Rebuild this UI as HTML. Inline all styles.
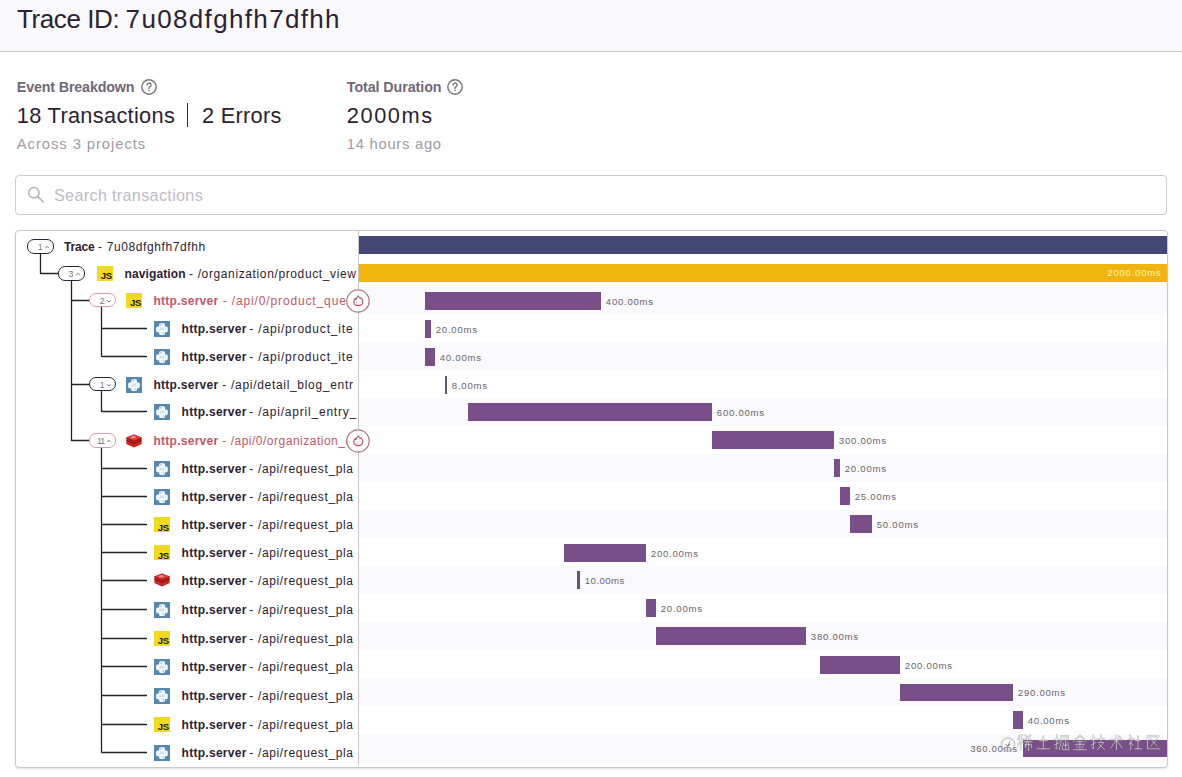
<!DOCTYPE html>
<html><head><meta charset="utf-8"><style>
html,body{margin:0;padding:0;background:#fff;}
body{width:1182px;height:777px;overflow:hidden;position:relative;font-family:"Liberation Sans", sans-serif;}
#clip{position:absolute;left:16px;top:231px;width:340px;height:535px;overflow:hidden;}
</style></head><body>
<div style="position:absolute;left:0px;top:0px;width:1182px;height:51px;background:#f9f9fb;"></div>
<div style="position:absolute;left:0px;top:51px;width:1182px;height:1px;background:#c9c8cc;"></div>
<div id="title1" style="position:absolute;left:17px;top:5.79px;font-size:26px;line-height:26px;font-weight:400;color:#2b2233;white-space:pre;letter-spacing:-0.409px;">Trace ID:</div>
<div id="title2" style="position:absolute;left:125.6px;top:5.79px;font-size:26px;line-height:26px;font-weight:400;color:#2b2233;white-space:pre;letter-spacing:1.341px;">7u08dfghfh7dfhh</div>
<div id="t2" style="position:absolute;left:16.8px;top:79.90px;font-size:14.3px;line-height:14.3px;font-weight:700;color:#6f6878;white-space:pre;letter-spacing:-0.159px;">Event Breakdown</div>
<svg style="position:absolute;left:139.7px;top:77.9px" width="18" height="18" viewBox="0 0 18 18"><circle cx="9" cy="9" r="7.2" fill="none" stroke="#77727c" stroke-width="1.4"/><path d="M7 7.1a2.05 2.05 0 1 1 2.85 1.85c-.5.25-.85.6-.85 1.15v.55" fill="none" stroke="#77727c" stroke-width="1.3" stroke-linecap="round"/><circle cx="9" cy="12.5" r=".8" fill="#77727c"/></svg>
<div id="t3" style="position:absolute;left:16.8px;top:105.05px;font-size:21.8px;line-height:21.8px;font-weight:400;color:#2b2233;white-space:pre;letter-spacing:0.297px;">18 Transactions</div>
<div style="position:absolute;left:187.1px;top:103.3px;width:1.3px;height:23.7px;background:#2b2233;"></div>
<div id="t4" style="position:absolute;left:202px;top:105.05px;font-size:21.8px;line-height:21.8px;font-weight:400;color:#2b2233;white-space:pre;letter-spacing:0.275px;">2 Errors</div>
<div id="t5" style="position:absolute;left:16.8px;top:136.67px;font-size:14.8px;line-height:14.8px;font-weight:400;color:#a09ba6;white-space:pre;letter-spacing:0.931px;">Across 3 projects</div>
<div id="t6" style="position:absolute;left:346.8px;top:79.90px;font-size:14.3px;line-height:14.3px;font-weight:700;color:#6f6878;white-space:pre;letter-spacing:-0.085px;">Total Duration</div>
<svg style="position:absolute;left:446.1px;top:77.9px" width="18" height="18" viewBox="0 0 18 18"><circle cx="9" cy="9" r="7.2" fill="none" stroke="#77727c" stroke-width="1.4"/><path d="M7 7.1a2.05 2.05 0 1 1 2.85 1.85c-.5.25-.85.6-.85 1.15v.55" fill="none" stroke="#77727c" stroke-width="1.3" stroke-linecap="round"/><circle cx="9" cy="12.5" r=".8" fill="#77727c"/></svg>
<div id="t7" style="position:absolute;left:346.8px;top:105.05px;font-size:21.8px;line-height:21.8px;font-weight:400;color:#2b2233;white-space:pre;letter-spacing:1.558px;">2000ms</div>
<div id="t8" style="position:absolute;left:346.8px;top:136.67px;font-size:14.8px;line-height:14.8px;font-weight:400;color:#a09ba6;white-space:pre;letter-spacing:0.718px;">14 hours ago</div>
<div style="position:absolute;left:15px;top:175px;width:1150px;height:38px;border:1px solid #cdcad0;border-radius:4px;background:#fff"></div>
<svg style="position:absolute;left:26px;top:185px" width="20" height="20" viewBox="0 0 20 20"><circle cx="7.9" cy="7.7" r="5.2" fill="none" stroke="#b6b3ba" stroke-width="1.5"/><path d="M11.6 11.4l5.6 5.5" stroke="#b6b3ba" stroke-width="1.5" stroke-linecap="round"/></svg>
<div id="t9" style="position:absolute;left:54.0px;top:186.79px;font-size:16.2px;line-height:16.2px;font-weight:400;color:#c0bbc6;white-space:pre;letter-spacing:0.318px;">Search transactions</div>
<div style="position:absolute;left:15px;top:230px;width:1151px;height:536px;border:1px solid #c9c7cc;border-radius:4px;background:#fff;box-shadow:0 1px 2px rgba(0,0,0,0.12)"></div>
<div style="position:absolute;left:359px;top:287px;width:808px;height:28px;background:#fafafc;"></div>
<div style="position:absolute;left:359px;top:343px;width:808px;height:28px;background:#fafafc;"></div>
<div style="position:absolute;left:359px;top:398px;width:808px;height:28px;background:#fafafc;"></div>
<div style="position:absolute;left:359px;top:454px;width:808px;height:28px;background:#fafafc;"></div>
<div style="position:absolute;left:359px;top:510px;width:808px;height:28px;background:#fafafc;"></div>
<div style="position:absolute;left:359px;top:566px;width:808px;height:28px;background:#fafafc;"></div>
<div style="position:absolute;left:359px;top:622px;width:808px;height:28px;background:#fafafc;"></div>
<div style="position:absolute;left:359px;top:678px;width:808px;height:28px;background:#fafafc;"></div>
<div style="position:absolute;left:359px;top:735px;width:808px;height:28px;background:#fafafc;"></div>
<div style="position:absolute;left:359px;top:236.0px;width:808px;height:17.5px;background:#444674;"></div>
<div style="position:absolute;left:359px;top:264.1px;width:808px;height:17.5px;background:#f2b50f;"></div>
<div id="t10" style="position:absolute;left:1107.3px;top:267.62px;font-size:9.6px;line-height:9.6px;font-weight:400;color:#fff3c4;white-space:pre;letter-spacing:0.750px;">2000.00ms</div>
<div style="position:absolute;left:425px;top:292.25px;width:176px;height:17.5px;background:#7a4f89;"></div>
<div id="t11" style="position:absolute;left:605.8px;top:296.97px;font-size:9.6px;line-height:9.6px;font-weight:400;color:#6a6370;white-space:pre;letter-spacing:0.746px;">400.00ms</div>
<div style="position:absolute;left:425px;top:320.25px;width:6px;height:17.5px;background:#7a4f89;"></div>
<div id="t12" style="position:absolute;left:435.8px;top:324.97px;font-size:9.6px;line-height:9.6px;font-weight:400;color:#6a6370;white-space:pre;letter-spacing:0.727px;">20.00ms</div>
<div style="position:absolute;left:425px;top:348.0px;width:10px;height:17.5px;background:#7a4f89;"></div>
<div id="t13" style="position:absolute;left:439.8px;top:352.72px;font-size:9.6px;line-height:9.6px;font-weight:400;color:#6a6370;white-space:pre;letter-spacing:0.729px;">40.00ms</div>
<div style="position:absolute;left:445px;top:376.05px;width:2px;height:17.5px;background:#65546f;"></div>
<div id="t14" style="position:absolute;left:451.8px;top:380.77px;font-size:9.6px;line-height:9.6px;font-weight:400;color:#6a6370;white-space:pre;letter-spacing:0.782px;">8.00ms</div>
<div style="position:absolute;left:468px;top:403.05px;width:244px;height:17.5px;background:#7a4f89;"></div>
<div id="t15" style="position:absolute;left:716.8px;top:407.77px;font-size:9.6px;line-height:9.6px;font-weight:400;color:#6a6370;white-space:pre;letter-spacing:0.747px;">600.00ms</div>
<div style="position:absolute;left:712px;top:431.0px;width:122px;height:17.5px;background:#7a4f89;"></div>
<div id="t16" style="position:absolute;left:838.8px;top:435.72px;font-size:9.6px;line-height:9.6px;font-weight:400;color:#6a6370;white-space:pre;letter-spacing:0.746px;">300.00ms</div>
<div style="position:absolute;left:834px;top:459.25px;width:6px;height:17.5px;background:#7a4f89;"></div>
<div id="t17" style="position:absolute;left:844.8px;top:463.97px;font-size:9.6px;line-height:9.6px;font-weight:400;color:#6a6370;white-space:pre;letter-spacing:0.727px;">20.00ms</div>
<div style="position:absolute;left:840px;top:487.15px;width:10px;height:17.5px;background:#7a4f89;"></div>
<div id="t18" style="position:absolute;left:854.8px;top:491.87px;font-size:9.6px;line-height:9.6px;font-weight:400;color:#6a6370;white-space:pre;letter-spacing:0.727px;">25.00ms</div>
<div style="position:absolute;left:850px;top:515.25px;width:22px;height:17.5px;background:#7a4f89;"></div>
<div id="t19" style="position:absolute;left:876.8px;top:519.97px;font-size:9.6px;line-height:9.6px;font-weight:400;color:#6a6370;white-space:pre;letter-spacing:0.727px;">50.00ms</div>
<div style="position:absolute;left:564px;top:544.15px;width:82px;height:17.5px;background:#7a4f89;"></div>
<div id="t20" style="position:absolute;left:650.8px;top:548.87px;font-size:9.6px;line-height:9.6px;font-weight:400;color:#6a6370;white-space:pre;letter-spacing:0.747px;">200.00ms</div>
<div style="position:absolute;left:577px;top:571.25px;width:3px;height:17.5px;background:#65546f;"></div>
<div id="t21" style="position:absolute;left:584.8px;top:575.97px;font-size:9.6px;line-height:9.6px;font-weight:400;color:#6a6370;white-space:pre;letter-spacing:0.460px;">10.00ms</div>
<div style="position:absolute;left:646px;top:599.25px;width:10px;height:17.5px;background:#7a4f89;"></div>
<div id="t22" style="position:absolute;left:660.8px;top:603.97px;font-size:9.6px;line-height:9.6px;font-weight:400;color:#6a6370;white-space:pre;letter-spacing:0.727px;">20.00ms</div>
<div style="position:absolute;left:656px;top:627.0px;width:150px;height:17.5px;background:#7a4f89;"></div>
<div id="t23" style="position:absolute;left:810.8px;top:631.72px;font-size:9.6px;line-height:9.6px;font-weight:400;color:#6a6370;white-space:pre;letter-spacing:0.747px;">380.00ms</div>
<div style="position:absolute;left:820px;top:656.15px;width:80px;height:17.5px;background:#7a4f89;"></div>
<div id="t24" style="position:absolute;left:904.8px;top:660.87px;font-size:9.6px;line-height:9.6px;font-weight:400;color:#6a6370;white-space:pre;letter-spacing:0.747px;">200.00ms</div>
<div style="position:absolute;left:900px;top:683.75px;width:113px;height:17.5px;background:#7a4f89;"></div>
<div id="t25" style="position:absolute;left:1017.8px;top:688.47px;font-size:9.6px;line-height:9.6px;font-weight:400;color:#6a6370;white-space:pre;letter-spacing:0.746px;">290.00ms</div>
<div style="position:absolute;left:1013px;top:711.25px;width:10px;height:17.5px;background:#7a4f89;"></div>
<div id="t26" style="position:absolute;left:1027.8px;top:715.97px;font-size:9.6px;line-height:9.6px;font-weight:400;color:#6a6370;white-space:pre;letter-spacing:0.726px;">40.00ms</div>
<div style="position:absolute;left:1023px;top:739.85px;width:144px;height:17.5px;background:#7a4f89;"></div>
<div id="t27" style="position:absolute;left:970.2px;top:744.27px;font-size:9.6px;line-height:9.6px;font-weight:400;color:#6a6370;white-space:pre;letter-spacing:0.661px;">360.00ms</div>
<div style="position:absolute;left:358px;top:231px;width:1px;height:535px;background:#c9c7cc;"></div>
<svg style="position:absolute;left:0;top:0" width="400" height="777"><path d="M40.5 253V273.9 M40.3 273.5H59 M71.5 280V441.1 M71.5 300.5H90 M71.5 384.5H90 M71.5 440.5H90 M101.5 307V356.8 M101.6 328.5H147 M101.6 356.5H147 M101.5 391V412.0 M101.6 411.5H147 M101.5 447V752.7 M101.6 468.5H147 M101.6 496.5H147 M101.6 524.5H147 M101.6 552.5H147 M101.6 580.5H147 M101.6 609.5H147 M101.6 638.5H147 M101.6 666.5H147 M101.6 695.5H147 M101.6 724.5H147 M101.6 752.5H147" stroke="#242226" stroke-width="1.3" fill="none"/></svg>
<div style="position:absolute;left:27.1px;top:239.15px;width:25px;height:12.5px;border:1px solid #2b2233;border-radius:7px;background:#fff"></div>
<div id="t28" style="position:absolute;left:37.7px;top:243.15px;font-size:8.8px;line-height:8.8px;font-weight:400;color:#79717f;white-space:pre;letter-spacing:0.000px;">1</div>
<svg style="position:absolute;left:45.3px;top:245.80px;overflow:visible" width="4" height="3"><path d="M0.2 2.1L2 0.3L3.8 2.1" fill="none" stroke="#79717f" stroke-width="1"/></svg>
<div style="position:absolute;left:58px;top:266.05px;width:25px;height:12.5px;border:1px solid #2b2233;border-radius:7px;background:#fff"></div>
<div id="t31" style="position:absolute;left:68.6px;top:270.05px;font-size:8.8px;line-height:8.8px;font-weight:400;color:#79717f;white-space:pre;letter-spacing:0.000px;">3</div>
<svg style="position:absolute;left:76.2px;top:272.70px;overflow:visible" width="4" height="3"><path d="M0.2 2.1L2 0.3L3.8 2.1" fill="none" stroke="#79717f" stroke-width="1"/></svg>
<div style="position:absolute;left:97px;top:265.70px;width:15.6px;height:15.6px;background:#f0d91e;overflow:hidden"><div style="position:absolute;right:0.9px;bottom:0.3px;font-size:9.6px;line-height:9.6px;font-weight:700;color:#1a1810;letter-spacing:-0.4px;font-family:"Liberation Sans", sans-serif">JS</div></div>
<div style="position:absolute;left:89.2px;top:292.95px;width:25px;height:12.5px;border:1px solid #d99aa6;border-radius:7px;background:#fff"></div>
<div id="t34" style="position:absolute;left:99.8px;top:296.95px;font-size:8.8px;line-height:8.8px;font-weight:400;color:#79717f;white-space:pre;letter-spacing:0.000px;">2</div>
<svg style="position:absolute;left:107.4px;top:299.60px;overflow:visible" width="4" height="3"><path d="M0.2 0.3L2 2.1L3.8 0.3" fill="none" stroke="#79717f" stroke-width="1"/></svg>
<div style="position:absolute;left:126.2px;top:292.60px;width:15.6px;height:15.6px;background:#f0d91e;overflow:hidden"><div style="position:absolute;right:0.9px;bottom:0.3px;font-size:9.6px;line-height:9.6px;font-weight:700;color:#1a1810;letter-spacing:-0.4px;font-family:"Liberation Sans", sans-serif">JS</div></div>
<svg style="position:absolute;left:154px;top:321.00px" width="16" height="16" viewBox="0 0 16 16"><rect width="16" height="16" fill="#5689b0"/><path d="M6.6 2.3h2.9c.9 0 1.5.6 1.5 1.5v1.6h1.3c.9 0 1.5.6 1.5 1.5v2.8c0 .9-.6 1.5-1.5 1.5H11v1.2c0 .9-.6 1.5-1.5 1.5H6.6c-.9 0-1.5-.6-1.5-1.5v-1.2H3.6c-.9 0-1.5-.6-1.5-1.5V6.9c0-.9.6-1.5 1.5-1.5h1.5V3.8c0-.9.6-1.5 1.5-1.5z" fill="#f2f7fb"/><path d="M5.2 8.6h4.6M6.2 7.2h4.6" stroke="#b9cfe0" stroke-width=".7"/><circle cx="6.9" cy="3.9" r=".55" fill="#5689b0"/><circle cx="9.2" cy="12.1" r=".55" fill="#5689b0"/></svg>
<svg style="position:absolute;left:154px;top:349.00px" width="16" height="16" viewBox="0 0 16 16"><rect width="16" height="16" fill="#5689b0"/><path d="M6.6 2.3h2.9c.9 0 1.5.6 1.5 1.5v1.6h1.3c.9 0 1.5.6 1.5 1.5v2.8c0 .9-.6 1.5-1.5 1.5H11v1.2c0 .9-.6 1.5-1.5 1.5H6.6c-.9 0-1.5-.6-1.5-1.5v-1.2H3.6c-.9 0-1.5-.6-1.5-1.5V6.9c0-.9.6-1.5 1.5-1.5h1.5V3.8c0-.9.6-1.5 1.5-1.5z" fill="#f2f7fb"/><path d="M5.2 8.6h4.6M6.2 7.2h4.6" stroke="#b9cfe0" stroke-width=".7"/><circle cx="6.9" cy="3.9" r=".55" fill="#5689b0"/><circle cx="9.2" cy="12.1" r=".55" fill="#5689b0"/></svg>
<div style="position:absolute;left:89.2px;top:376.95px;width:25px;height:12.5px;border:1px solid #2b2233;border-radius:7px;background:#fff"></div>
<div id="t41" style="position:absolute;left:99.8px;top:380.95px;font-size:8.8px;line-height:8.8px;font-weight:400;color:#79717f;white-space:pre;letter-spacing:0.000px;">1</div>
<svg style="position:absolute;left:107.4px;top:383.60px;overflow:visible" width="4" height="3"><path d="M0.2 0.3L2 2.1L3.8 0.3" fill="none" stroke="#79717f" stroke-width="1"/></svg>
<svg style="position:absolute;left:126px;top:377.00px" width="16" height="16" viewBox="0 0 16 16"><rect width="16" height="16" fill="#5689b0"/><path d="M6.6 2.3h2.9c.9 0 1.5.6 1.5 1.5v1.6h1.3c.9 0 1.5.6 1.5 1.5v2.8c0 .9-.6 1.5-1.5 1.5H11v1.2c0 .9-.6 1.5-1.5 1.5H6.6c-.9 0-1.5-.6-1.5-1.5v-1.2H3.6c-.9 0-1.5-.6-1.5-1.5V6.9c0-.9.6-1.5 1.5-1.5h1.5V3.8c0-.9.6-1.5 1.5-1.5z" fill="#f2f7fb"/><path d="M5.2 8.6h4.6M6.2 7.2h4.6" stroke="#b9cfe0" stroke-width=".7"/><circle cx="6.9" cy="3.9" r=".55" fill="#5689b0"/><circle cx="9.2" cy="12.1" r=".55" fill="#5689b0"/></svg>
<svg style="position:absolute;left:154px;top:404.20px" width="16" height="16" viewBox="0 0 16 16"><rect width="16" height="16" fill="#5689b0"/><path d="M6.6 2.3h2.9c.9 0 1.5.6 1.5 1.5v1.6h1.3c.9 0 1.5.6 1.5 1.5v2.8c0 .9-.6 1.5-1.5 1.5H11v1.2c0 .9-.6 1.5-1.5 1.5H6.6c-.9 0-1.5-.6-1.5-1.5v-1.2H3.6c-.9 0-1.5-.6-1.5-1.5V6.9c0-.9.6-1.5 1.5-1.5h1.5V3.8c0-.9.6-1.5 1.5-1.5z" fill="#f2f7fb"/><path d="M5.2 8.6h4.6M6.2 7.2h4.6" stroke="#b9cfe0" stroke-width=".7"/><circle cx="6.9" cy="3.9" r=".55" fill="#5689b0"/><circle cx="9.2" cy="12.1" r=".55" fill="#5689b0"/></svg>
<div style="position:absolute;left:89.2px;top:433.25px;width:25px;height:12.5px;border:1px solid #d99aa6;border-radius:7px;background:#fff"></div>
<div id="t46" style="position:absolute;left:97.10000000000001px;top:437.25px;font-size:8.8px;line-height:8.8px;font-weight:400;color:#79717f;white-space:pre;letter-spacing:0.000px;letter-spacing:-1.2px">11</div>
<svg style="position:absolute;left:107.4px;top:439.90px;overflow:visible" width="4" height="3"><path d="M0.2 2.1L2 0.3L3.8 2.1" fill="none" stroke="#79717f" stroke-width="1"/></svg>
<svg style="position:absolute;left:126px;top:433.50px" width="16" height="14" viewBox="0 0 16 14"><path d="M8 0.6L15.6 3.6V10L8 13.4L0.4 10V3.6Z" fill="#b91c17"/><path d="M1 7.2L8 10.2L15 7.2V9.6L8 12.7L1 9.6Z" fill="#d22b24"/><path d="M0.4 6.4L8 9.6L15.6 6.4" fill="none" stroke="#7e110d" stroke-width=".8"/><path d="M0.4 3.6L8 6.8L15.6 3.6" fill="none" stroke="#7e110d" stroke-width=".8"/><path d="M8 0.6L15.6 3.6L8 6.8L0.4 3.6Z" fill="#dc3a32"/><path d="M4.2 3.2L7.6 1.9L10.6 3.3L7 4.6Z" fill="#f2a39c"/></svg>
<svg style="position:absolute;left:154px;top:461.30px" width="16" height="16" viewBox="0 0 16 16"><rect width="16" height="16" fill="#5689b0"/><path d="M6.6 2.3h2.9c.9 0 1.5.6 1.5 1.5v1.6h1.3c.9 0 1.5.6 1.5 1.5v2.8c0 .9-.6 1.5-1.5 1.5H11v1.2c0 .9-.6 1.5-1.5 1.5H6.6c-.9 0-1.5-.6-1.5-1.5v-1.2H3.6c-.9 0-1.5-.6-1.5-1.5V6.9c0-.9.6-1.5 1.5-1.5h1.5V3.8c0-.9.6-1.5 1.5-1.5z" fill="#f2f7fb"/><path d="M5.2 8.6h4.6M6.2 7.2h4.6" stroke="#b9cfe0" stroke-width=".7"/><circle cx="6.9" cy="3.9" r=".55" fill="#5689b0"/><circle cx="9.2" cy="12.1" r=".55" fill="#5689b0"/></svg>
<svg style="position:absolute;left:154px;top:489.20px" width="16" height="16" viewBox="0 0 16 16"><rect width="16" height="16" fill="#5689b0"/><path d="M6.6 2.3h2.9c.9 0 1.5.6 1.5 1.5v1.6h1.3c.9 0 1.5.6 1.5 1.5v2.8c0 .9-.6 1.5-1.5 1.5H11v1.2c0 .9-.6 1.5-1.5 1.5H6.6c-.9 0-1.5-.6-1.5-1.5v-1.2H3.6c-.9 0-1.5-.6-1.5-1.5V6.9c0-.9.6-1.5 1.5-1.5h1.5V3.8c0-.9.6-1.5 1.5-1.5z" fill="#f2f7fb"/><path d="M5.2 8.6h4.6M6.2 7.2h4.6" stroke="#b9cfe0" stroke-width=".7"/><circle cx="6.9" cy="3.9" r=".55" fill="#5689b0"/><circle cx="9.2" cy="12.1" r=".55" fill="#5689b0"/></svg>
<div style="position:absolute;left:154px;top:516.80px;width:15.6px;height:15.6px;background:#f0d91e;overflow:hidden"><div style="position:absolute;right:0.9px;bottom:0.3px;font-size:9.6px;line-height:9.6px;font-weight:700;color:#1a1810;letter-spacing:-0.4px;font-family:"Liberation Sans", sans-serif">JS</div></div>
<div style="position:absolute;left:154px;top:544.80px;width:15.6px;height:15.6px;background:#f0d91e;overflow:hidden"><div style="position:absolute;right:0.9px;bottom:0.3px;font-size:9.6px;line-height:9.6px;font-weight:700;color:#1a1810;letter-spacing:-0.4px;font-family:"Liberation Sans", sans-serif">JS</div></div>
<svg style="position:absolute;left:154px;top:573.40px" width="16" height="14" viewBox="0 0 16 14"><path d="M8 0.6L15.6 3.6V10L8 13.4L0.4 10V3.6Z" fill="#b91c17"/><path d="M1 7.2L8 10.2L15 7.2V9.6L8 12.7L1 9.6Z" fill="#d22b24"/><path d="M0.4 6.4L8 9.6L15.6 6.4" fill="none" stroke="#7e110d" stroke-width=".8"/><path d="M0.4 3.6L8 6.8L15.6 3.6" fill="none" stroke="#7e110d" stroke-width=".8"/><path d="M8 0.6L15.6 3.6L8 6.8L0.4 3.6Z" fill="#dc3a32"/><path d="M4.2 3.2L7.6 1.9L10.6 3.3L7 4.6Z" fill="#f2a39c"/></svg>
<svg style="position:absolute;left:154px;top:602.10px" width="16" height="16" viewBox="0 0 16 16"><rect width="16" height="16" fill="#5689b0"/><path d="M6.6 2.3h2.9c.9 0 1.5.6 1.5 1.5v1.6h1.3c.9 0 1.5.6 1.5 1.5v2.8c0 .9-.6 1.5-1.5 1.5H11v1.2c0 .9-.6 1.5-1.5 1.5H6.6c-.9 0-1.5-.6-1.5-1.5v-1.2H3.6c-.9 0-1.5-.6-1.5-1.5V6.9c0-.9.6-1.5 1.5-1.5h1.5V3.8c0-.9.6-1.5 1.5-1.5z" fill="#f2f7fb"/><path d="M5.2 8.6h4.6M6.2 7.2h4.6" stroke="#b9cfe0" stroke-width=".7"/><circle cx="6.9" cy="3.9" r=".55" fill="#5689b0"/><circle cx="9.2" cy="12.1" r=".55" fill="#5689b0"/></svg>
<div style="position:absolute;left:154px;top:630.70px;width:15.6px;height:15.6px;background:#f0d91e;overflow:hidden"><div style="position:absolute;right:0.9px;bottom:0.3px;font-size:9.6px;line-height:9.6px;font-weight:700;color:#1a1810;letter-spacing:-0.4px;font-family:"Liberation Sans", sans-serif">JS</div></div>
<svg style="position:absolute;left:154px;top:658.90px" width="16" height="16" viewBox="0 0 16 16"><rect width="16" height="16" fill="#5689b0"/><path d="M6.6 2.3h2.9c.9 0 1.5.6 1.5 1.5v1.6h1.3c.9 0 1.5.6 1.5 1.5v2.8c0 .9-.6 1.5-1.5 1.5H11v1.2c0 .9-.6 1.5-1.5 1.5H6.6c-.9 0-1.5-.6-1.5-1.5v-1.2H3.6c-.9 0-1.5-.6-1.5-1.5V6.9c0-.9.6-1.5 1.5-1.5h1.5V3.8c0-.9.6-1.5 1.5-1.5z" fill="#f2f7fb"/><path d="M5.2 8.6h4.6M6.2 7.2h4.6" stroke="#b9cfe0" stroke-width=".7"/><circle cx="6.9" cy="3.9" r=".55" fill="#5689b0"/><circle cx="9.2" cy="12.1" r=".55" fill="#5689b0"/></svg>
<svg style="position:absolute;left:154px;top:688.00px" width="16" height="16" viewBox="0 0 16 16"><rect width="16" height="16" fill="#5689b0"/><path d="M6.6 2.3h2.9c.9 0 1.5.6 1.5 1.5v1.6h1.3c.9 0 1.5.6 1.5 1.5v2.8c0 .9-.6 1.5-1.5 1.5H11v1.2c0 .9-.6 1.5-1.5 1.5H6.6c-.9 0-1.5-.6-1.5-1.5v-1.2H3.6c-.9 0-1.5-.6-1.5-1.5V6.9c0-.9.6-1.5 1.5-1.5h1.5V3.8c0-.9.6-1.5 1.5-1.5z" fill="#f2f7fb"/><path d="M5.2 8.6h4.6M6.2 7.2h4.6" stroke="#b9cfe0" stroke-width=".7"/><circle cx="6.9" cy="3.9" r=".55" fill="#5689b0"/><circle cx="9.2" cy="12.1" r=".55" fill="#5689b0"/></svg>
<div style="position:absolute;left:154px;top:716.70px;width:15.6px;height:15.6px;background:#f0d91e;overflow:hidden"><div style="position:absolute;right:0.9px;bottom:0.3px;font-size:9.6px;line-height:9.6px;font-weight:700;color:#1a1810;letter-spacing:-0.4px;font-family:"Liberation Sans", sans-serif">JS</div></div>
<svg style="position:absolute;left:154px;top:744.90px" width="16" height="16" viewBox="0 0 16 16"><rect width="16" height="16" fill="#5689b0"/><path d="M6.6 2.3h2.9c.9 0 1.5.6 1.5 1.5v1.6h1.3c.9 0 1.5.6 1.5 1.5v2.8c0 .9-.6 1.5-1.5 1.5H11v1.2c0 .9-.6 1.5-1.5 1.5H6.6c-.9 0-1.5-.6-1.5-1.5v-1.2H3.6c-.9 0-1.5-.6-1.5-1.5V6.9c0-.9.6-1.5 1.5-1.5h1.5V3.8c0-.9.6-1.5 1.5-1.5z" fill="#f2f7fb"/><path d="M5.2 8.6h4.6M6.2 7.2h4.6" stroke="#b9cfe0" stroke-width=".7"/><circle cx="6.9" cy="3.9" r=".55" fill="#5689b0"/><circle cx="9.2" cy="12.1" r=".55" fill="#5689b0"/></svg>
<div style="position:absolute;left:0;top:0;width:357px;height:777px;overflow:hidden"><div id="b0" style="position:absolute;left:64.1px;top:241.24px;font-size:12px;line-height:12px;font-weight:700;color:#2b2233;white-space:pre;letter-spacing:-0.176px;">Trace</div>
<div id="r0" style="position:absolute;left:98.1px;top:241.24px;font-size:12px;line-height:12px;font-weight:400;color:#2b2233;white-space:pre;letter-spacing:0.608px;">- 7u08dfghfh7dfhh</div>
<div id="b1" style="position:absolute;left:124.5px;top:268.14px;font-size:12px;line-height:12px;font-weight:700;color:#2b2233;white-space:pre;letter-spacing:0.116px;">navigation</div>
<div id="r1" style="position:absolute;left:189.1px;top:268.14px;font-size:12px;line-height:12px;font-weight:400;color:#2b2233;white-space:pre;letter-spacing:0.621px;">- /organization/product_view</div>
<div id="b2" style="position:absolute;left:153.5px;top:295.04px;font-size:12px;line-height:12px;font-weight:700;color:#c2566b;white-space:pre;letter-spacing:0.264px;">http.server</div>
<div id="r2" style="position:absolute;left:222.7px;top:295.04px;font-size:12px;line-height:12px;font-weight:400;color:#c2566b;white-space:pre;letter-spacing:0.864px;">- /api/0/product_query_count</div>
<div id="b3" style="position:absolute;left:181.6px;top:323.04px;font-size:12px;line-height:12px;font-weight:700;color:#2b2233;white-space:pre;letter-spacing:0.273px;">http.server</div>
<div id="r3" style="position:absolute;left:249.3px;top:323.04px;font-size:12px;line-height:12px;font-weight:400;color:#2b2233;white-space:pre;letter-spacing:0.822px;">- /api/product_ite</div>
<div id="b4" style="position:absolute;left:181.6px;top:351.04px;font-size:12px;line-height:12px;font-weight:700;color:#2b2233;white-space:pre;letter-spacing:0.273px;">http.server</div>
<div id="r4" style="position:absolute;left:249.3px;top:351.04px;font-size:12px;line-height:12px;font-weight:400;color:#2b2233;white-space:pre;letter-spacing:0.822px;">- /api/product_ite</div>
<div id="b5" style="position:absolute;left:153.5px;top:379.04px;font-size:12px;line-height:12px;font-weight:700;color:#2b2233;white-space:pre;letter-spacing:0.264px;">http.server</div>
<div id="r5" style="position:absolute;left:222.3px;top:379.04px;font-size:12px;line-height:12px;font-weight:400;color:#2b2233;white-space:pre;letter-spacing:0.693px;">- /api/detail_blog_entr</div>
<div id="b6" style="position:absolute;left:181.6px;top:406.24px;font-size:12px;line-height:12px;font-weight:700;color:#2b2233;white-space:pre;letter-spacing:0.273px;">http.server</div>
<div id="r6" style="position:absolute;left:249.3px;top:406.24px;font-size:12px;line-height:12px;font-weight:400;color:#2b2233;white-space:pre;letter-spacing:0.791px;">- /api/april_entry_</div>
<div id="b7" style="position:absolute;left:153.5px;top:435.34px;font-size:12px;line-height:12px;font-weight:700;color:#c2566b;white-space:pre;letter-spacing:0.264px;">http.server</div>
<div id="r7" style="position:absolute;left:222.3px;top:435.34px;font-size:12px;line-height:12px;font-weight:400;color:#c2566b;white-space:pre;letter-spacing:0.504px;">- /api/0/organization_details</div>
<div id="b8" style="position:absolute;left:181.6px;top:463.34px;font-size:12px;line-height:12px;font-weight:700;color:#2b2233;white-space:pre;letter-spacing:0.273px;">http.server</div>
<div id="r8" style="position:absolute;left:249.3px;top:463.34px;font-size:12px;line-height:12px;font-weight:400;color:#2b2233;white-space:pre;letter-spacing:0.648px;">- /api/request_pla</div>
<div id="b9" style="position:absolute;left:181.6px;top:491.24px;font-size:12px;line-height:12px;font-weight:700;color:#2b2233;white-space:pre;letter-spacing:0.273px;">http.server</div>
<div id="r9" style="position:absolute;left:249.3px;top:491.24px;font-size:12px;line-height:12px;font-weight:400;color:#2b2233;white-space:pre;letter-spacing:0.648px;">- /api/request_pla</div>
<div id="b10" style="position:absolute;left:181.6px;top:519.24px;font-size:12px;line-height:12px;font-weight:700;color:#2b2233;white-space:pre;letter-spacing:0.273px;">http.server</div>
<div id="r10" style="position:absolute;left:249.3px;top:519.24px;font-size:12px;line-height:12px;font-weight:400;color:#2b2233;white-space:pre;letter-spacing:0.648px;">- /api/request_pla</div>
<div id="b11" style="position:absolute;left:181.6px;top:547.24px;font-size:12px;line-height:12px;font-weight:700;color:#2b2233;white-space:pre;letter-spacing:0.273px;">http.server</div>
<div id="r11" style="position:absolute;left:249.3px;top:547.24px;font-size:12px;line-height:12px;font-weight:400;color:#2b2233;white-space:pre;letter-spacing:0.648px;">- /api/request_pla</div>
<div id="b12" style="position:absolute;left:181.6px;top:575.24px;font-size:12px;line-height:12px;font-weight:700;color:#2b2233;white-space:pre;letter-spacing:0.273px;">http.server</div>
<div id="r12" style="position:absolute;left:249.3px;top:575.24px;font-size:12px;line-height:12px;font-weight:400;color:#2b2233;white-space:pre;letter-spacing:0.648px;">- /api/request_pla</div>
<div id="b13" style="position:absolute;left:181.6px;top:604.14px;font-size:12px;line-height:12px;font-weight:700;color:#2b2233;white-space:pre;letter-spacing:0.273px;">http.server</div>
<div id="r13" style="position:absolute;left:249.3px;top:604.14px;font-size:12px;line-height:12px;font-weight:400;color:#2b2233;white-space:pre;letter-spacing:0.648px;">- /api/request_pla</div>
<div id="b14" style="position:absolute;left:181.6px;top:633.14px;font-size:12px;line-height:12px;font-weight:700;color:#2b2233;white-space:pre;letter-spacing:0.273px;">http.server</div>
<div id="r14" style="position:absolute;left:249.3px;top:633.14px;font-size:12px;line-height:12px;font-weight:400;color:#2b2233;white-space:pre;letter-spacing:0.648px;">- /api/request_pla</div>
<div id="b15" style="position:absolute;left:181.6px;top:660.94px;font-size:12px;line-height:12px;font-weight:700;color:#2b2233;white-space:pre;letter-spacing:0.273px;">http.server</div>
<div id="r15" style="position:absolute;left:249.3px;top:660.94px;font-size:12px;line-height:12px;font-weight:400;color:#2b2233;white-space:pre;letter-spacing:0.648px;">- /api/request_pla</div>
<div id="b16" style="position:absolute;left:181.6px;top:690.04px;font-size:12px;line-height:12px;font-weight:700;color:#2b2233;white-space:pre;letter-spacing:0.273px;">http.server</div>
<div id="r16" style="position:absolute;left:249.3px;top:690.04px;font-size:12px;line-height:12px;font-weight:400;color:#2b2233;white-space:pre;letter-spacing:0.648px;">- /api/request_pla</div>
<div id="b17" style="position:absolute;left:181.6px;top:719.14px;font-size:12px;line-height:12px;font-weight:700;color:#2b2233;white-space:pre;letter-spacing:0.273px;">http.server</div>
<div id="r17" style="position:absolute;left:249.3px;top:719.14px;font-size:12px;line-height:12px;font-weight:400;color:#2b2233;white-space:pre;letter-spacing:0.648px;">- /api/request_pla</div>
<div id="b18" style="position:absolute;left:181.6px;top:746.94px;font-size:12px;line-height:12px;font-weight:700;color:#2b2233;white-space:pre;letter-spacing:0.273px;">http.server</div>
<div id="r18" style="position:absolute;left:249.3px;top:746.94px;font-size:12px;line-height:12px;font-weight:400;color:#2b2233;white-space:pre;letter-spacing:0.648px;">- /api/request_pla</div></div>
<svg style="position:absolute;left:345.8px;top:289.10px" width="24" height="24" viewBox="0 0 24 24"><circle cx="12" cy="12" r="11.2" fill="#fff" stroke="#b37b87" stroke-width="1.2"/><path d="M12.4 6.9C12.9 8.1 13.6 8.8 14.3 9.5L15.1 8.9C16.3 10.1 16.8 11.4 16.8 12.7C16.8 15.1 14.9 16.6 12.3 16.6C9.7 16.6 7.8 15.1 7.8 12.7C7.8 11.3 8.5 10.2 9.3 9.4L9.9 10.4C10.6 9 11.5 7.9 12.4 6.9Z" fill="none" stroke="#b5566a" stroke-width="1.15" stroke-linejoin="round"/><path d="M10.3 13.2c.1 1.3 1 2 2.1 2" fill="none" stroke="#d89aa6" stroke-width=".8" stroke-linecap="round"/></svg>
<svg style="position:absolute;left:346px;top:428.80px" width="24" height="24" viewBox="0 0 24 24"><circle cx="12" cy="12" r="11.2" fill="#fff" stroke="#b37b87" stroke-width="1.2"/><path d="M12.4 6.9C12.9 8.1 13.6 8.8 14.3 9.5L15.1 8.9C16.3 10.1 16.8 11.4 16.8 12.7C16.8 15.1 14.9 16.6 12.3 16.6C9.7 16.6 7.8 15.1 7.8 12.7C7.8 11.3 8.5 10.2 9.3 9.4L9.9 10.4C10.6 9 11.5 7.9 12.4 6.9Z" fill="none" stroke="#b5566a" stroke-width="1.15" stroke-linejoin="round"/><path d="M10.3 13.2c.1 1.3 1 2 2.1 2" fill="none" stroke="#d89aa6" stroke-width=".8" stroke-linecap="round"/></svg>
<svg style="position:absolute;left:0;top:0;pointer-events:none" width="1182" height="777"><g fill="none" stroke="rgba(90,90,90,0.38)" stroke-width="2.1" stroke-linecap="round"><circle cx="1008" cy="744.5" r="6.6" stroke-width="1.5"/><g transform="translate(1017.0,733.5) scale(0.8,0.9)"><path d="M2 3L7 2M1 6H8M4.5 2V18M4.5 7L1 13M4.5 8L8 11M10 2L17 7M17 2L10 7M9 9H19M13 8L10 14M11 12V16M11 12H18V16M14.5 10V19"/></g><g transform="translate(1035.3,733.5) scale(0.8,0.9)"><path d="M5 8H15M10 3V17M2 17H18"/></g><g transform="translate(1053.6,733.5) scale(0.8,0.9)"><path d="M1 7H7M4 2V17L2 16M1 13L7 10M9 3H18V7H9M9 3V11L7 18M15 8V17M12 10V13H18V10M11 14V18H19V14"/></g><g transform="translate(1071.9,733.5) scale(0.8,0.9)"><path d="M10 2L2 9M10 2L18 9M6 9H14M4 12H16M10 9V18M6 14L7 16M14 14L13 16M2 18H18"/></g><g transform="translate(1090.2,733.5) scale(0.8,0.9)"><path d="M1 7H7M4 2V17L2 16M1 13L7 10M9 6H18M13.5 2V9M10 10H17L9 18M11 12L18 18"/></g><g transform="translate(1108.5,733.5) scale(0.8,0.9)"><path d="M2 7H18M10 2V18M10 7L3 16M10 7L17 16M13 3L15 5"/></g><g transform="translate(1126.8,733.5) scale(0.8,0.9)"><path d="M4 2L5 4M2 6H8L3 12M5 9V18M6 11L8 13M11 8H17M14 3V17M10 17H19"/></g><g transform="translate(1145.1,733.5) scale(0.8,0.9)"><path d="M3 3H17M3 3V17H18M7 6L15 14M15 6L7 14"/></g></g><g fill="none" stroke="rgba(255,255,255,0.7)" stroke-width="0.9" stroke-linecap="round"><circle cx="1008" cy="744.5" r="6.6" stroke-width="0.5"/><g transform="translate(1017.0,733.5) scale(0.8,0.9)"><path d="M2 3L7 2M1 6H8M4.5 2V18M4.5 7L1 13M4.5 8L8 11M10 2L17 7M17 2L10 7M9 9H19M13 8L10 14M11 12V16M11 12H18V16M14.5 10V19"/></g><g transform="translate(1035.3,733.5) scale(0.8,0.9)"><path d="M5 8H15M10 3V17M2 17H18"/></g><g transform="translate(1053.6,733.5) scale(0.8,0.9)"><path d="M1 7H7M4 2V17L2 16M1 13L7 10M9 3H18V7H9M9 3V11L7 18M15 8V17M12 10V13H18V10M11 14V18H19V14"/></g><g transform="translate(1071.9,733.5) scale(0.8,0.9)"><path d="M10 2L2 9M10 2L18 9M6 9H14M4 12H16M10 9V18M6 14L7 16M14 14L13 16M2 18H18"/></g><g transform="translate(1090.2,733.5) scale(0.8,0.9)"><path d="M1 7H7M4 2V17L2 16M1 13L7 10M9 6H18M13.5 2V9M10 10H17L9 18M11 12L18 18"/></g><g transform="translate(1108.5,733.5) scale(0.8,0.9)"><path d="M2 7H18M10 2V18M10 7L3 16M10 7L17 16M13 3L15 5"/></g><g transform="translate(1126.8,733.5) scale(0.8,0.9)"><path d="M4 2L5 4M2 6H8L3 12M5 9V18M6 11L8 13M11 8H17M14 3V17M10 17H19"/></g><g transform="translate(1145.1,733.5) scale(0.8,0.9)"><path d="M3 3H17M3 3V17H18M7 6L15 14M15 6L7 14"/></g></g><g fill="none" stroke="rgba(70,70,70,0.6)" stroke-width="1"><path d="M1010 741.5L1007.5 746.5M1006 744a2 2 0 1 0 4 0"/></g></svg>
</body></html>
